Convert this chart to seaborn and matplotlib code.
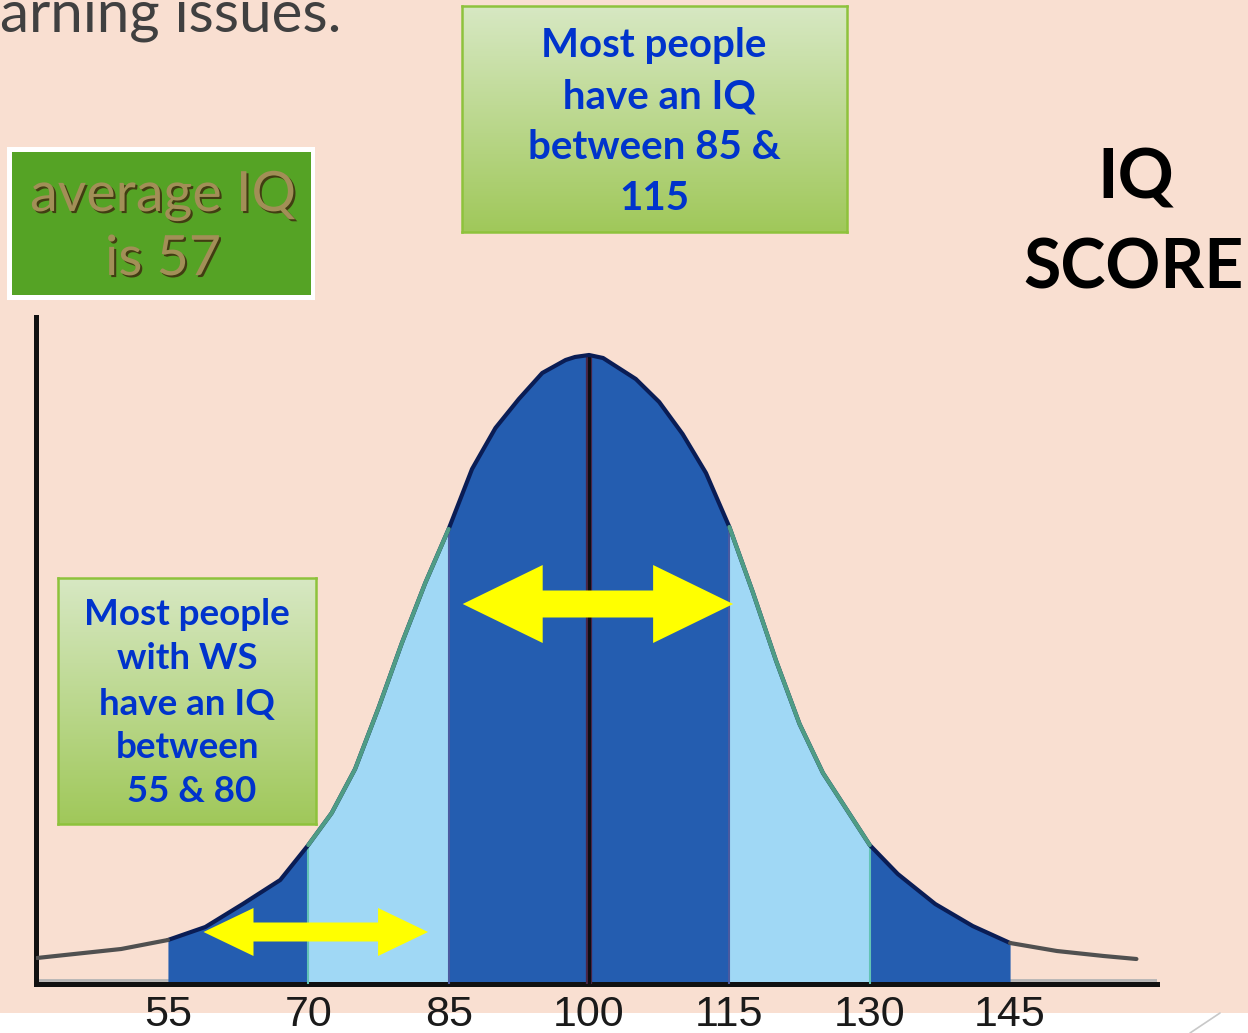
import numpy as np
import matplotlib
matplotlib.use("Agg")
import matplotlib.pyplot as plt
import matplotlib.patheffects as pe
from matplotlib.patches import Rectangle, Polygon
from matplotlib.colors import LinearSegmentedColormap
from matplotlib.transforms import IdentityTransform
import seaborn as sns

# curve: IQ value -> height of the bell (arbitrary units, peak ~629)
iq_points = [41, 45, 50, 55, 59, 63, 67, 70, 72.5, 75, 77.5, 80, 82.5, 85, 87.5, 90, 92.5, 95, 97.5, 98.5,
             100, 101.5, 102.5, 105, 107.5, 110, 112.5, 115, 117.5, 120, 122.5, 125, 127.5, 130, 133, 137,
             141, 145, 150, 155, 158.5]
curve_height = [26, 30, 35, 44, 57, 80, 104, 139, 171, 215, 276, 341, 401, 455, 515, 556, 585, 611, 624, 627,
                629, 626, 620, 605, 582, 550, 511, 457, 392, 323, 260, 211, 175, 139, 110, 80,
                58, 41, 33, 28, 25]

# shaded bands under the curve
band_lo = [55, 70, 85, 115, 130]
band_hi = [70, 85, 115, 130, 145]
band_shade = ["dark", "light", "dark", "light", "dark"]

tick_values = [55, 70, 85, 100, 115, 130, 145]

W, H = 1248, 1033
PEACH = "#F9DFD1"
DARK_BLUE = "#245DB0"
LIGHT_BLUE = "#A0D8F5"
TEXT_BLUE = "#0033CC"


def fx(x):
    return x / W


def fy(y):
    return 1 - y / H


def double_arrow(ax, x0, x1, y, shaft, head_w, head_len, color):
    p0 = ax.transData.transform((x0, y))
    p1 = ax.transData.transform((x1, y))
    a, b, cy = p0[0], p1[0], p0[1]
    pts = [(a, cy), (a + head_len, cy + head_w), (a + head_len, cy + shaft),
           (b - head_len, cy + shaft), (b - head_len, cy + head_w), (b, cy),
           (b - head_len, cy - head_w), (b - head_len, cy - shaft),
           (a + head_len, cy - shaft), (a + head_len, cy - head_w)]
    ax.add_patch(Polygon(pts, closed=True, transform=IdentityTransform(),
                         facecolor=color, edgecolor="none", zorder=6))


def gradient_box(fig, x0, y0, x1, y1):
    bax = fig.add_axes([fx(x0), fy(y1), (x1 - x0) / W, (y1 - y0) / H], zorder=4)
    cmap = LinearSegmentedColormap.from_list("box", ["#D7E8C3", "#A0C85A"])
    bax.imshow(np.linspace(0, 1, 256)[:, None], aspect="auto", cmap=cmap, extent=[0, 1, 0, 1])
    bax.set_xticks([])
    bax.set_yticks([])
    for s in bax.spines.values():
        s.set_color("#8EC23C")
        s.set_linewidth(1.8)
    return bax


def main():
    sns.set_style("white")
    plt.rcParams["font.family"] = ["Lato", "DejaVu Sans"]

    fig = plt.figure(figsize=(W / 100, H / 100), dpi=100, facecolor=PEACH)
    ax = fig.add_axes([fx(36), fy(984), (1157 - 36) / W, (984 - 317) / H])
    ax.set_facecolor(PEACH)
    ax.set_xlim(40.9, 160.7)
    ax.set_ylim(0, 667)

    x = np.array(iq_points)
    y = np.array(curve_height)

    # bands
    for lo, hi, shade in zip(band_lo, band_hi, band_shade):
        m = (x >= lo) & (x <= hi)
        ax.fill_between(x[m], 0, y[m], color=DARK_BLUE if shade == "dark" else LIGHT_BLUE,
                        lw=0, zorder=2)

    # band edges and centre line
    for v, c in [(70, "#62C3B5"), (130, "#62C3B5"), (85, "#4A5AA0"), (115, "#4A5AA0")]:
        ax.vlines(v, 0, curve_height[iq_points.index(v)], colors=c, lw=1.5, zorder=3)
    peak = curve_height[iq_points.index(100)]
    ax.vlines(100, 0, peak, colors="#4A2545", lw=4.5, zorder=4)
    ax.vlines(100, 0, peak, colors="#0D0D15", lw=2.2, zorder=4)

    # outline of the curve
    ax.axhline(4, color="#B4B4B4", lw=2, zorder=1)
    mid = (x >= 55) & (x <= 145)
    sns.lineplot(x=x[mid], y=y[mid], ax=ax, color="#0A1D55", lw=3, zorder=5)
    for lo, hi in [(70, 85), (115, 130)]:
        m = (x >= lo) & (x <= hi)
        sns.lineplot(x=x[m], y=y[m], ax=ax, color="#4F9C85", lw=3, zorder=5)
    for m in [x <= 55, x >= 145]:
        sns.lineplot(x=x[m], y=y[m], ax=ax, color="#505050", lw=3, zorder=5)

    # axes styling
    sns.despine(ax=ax)
    for side in ["left", "bottom"]:
        ax.spines[side].set_color("#111111")
        ax.spines[side].set_linewidth(3.6)
    ax.set_yticks([])
    ax.set_xticks(tick_values)
    ax.set_xticklabels([str(v) for v in tick_values])
    ax.tick_params(axis="x", length=0, pad=8, labelsize=31, labelcolor="#1A1A1A")
    for lab in ax.get_xticklabels():
        lab.set_fontfamily(["Liberation Sans", "DejaVu Sans"])
    ax.set_xlabel("")
    ax.set_ylabel("")

    # arrows
    double_arrow(ax, 86.5, 115.4, 380, 13.5, 39, 80, "#FFFF00")
    double_arrow(ax, 58.8, 82.8, 52, 9.5, 24, 50, "#FFFF00")

    # white strip under the slide and corner mark
    fig.add_artist(Rectangle((0, 0), 1, 20 / H, transform=fig.transFigure,
                             facecolor="white", edgecolor="none", zorder=-1))
    fig.add_artist(plt.Line2D([fx(1220), fx(1190)], [fy(1013), fy(1033)],
                              transform=fig.transFigure, color="#C8C8C8", lw=1.2))

    # slide text (cut at the top edge, as on the slide)
    fig.text(fx(0), fy(32), "arning issues.", ha="left", va="baseline",
             fontsize=42, color="#404040")

    # average IQ box
    fig.add_artist(Rectangle((fx(7), fy(300)), 308 / W, 153 / H, transform=fig.transFigure,
                             facecolor="white", edgecolor="none", zorder=1))
    fig.add_artist(Rectangle((fx(12), fy(295)), 299 / W, 143 / H, transform=fig.transFigure,
                             facecolor="#55A325", edgecolor="none", zorder=1.5))
    shadow = [pe.withSimplePatchShadow(offset=(1.5, -1.5), shadow_rgbFace="#3F3210", alpha=0.9)]
    for s, yy in [("average IQ", 211), ("is 57", 275)]:
        fig.text(fx(163), fy(yy), s, ha="center", va="baseline", fontsize=40,
                 color="#A28F57", path_effects=shadow, zorder=5)

    # text boxes
    gradient_box(fig, 462, 6, 847, 232)
    for s, yy in [("Most people", 57), (" have an IQ", 108), ("between 85 &", 159), ("115", 210)]:
        fig.text(fx(654), fy(yy), s, ha="center", va="baseline", fontsize=29,
                 fontweight="bold", color=TEXT_BLUE, zorder=5)

    gradient_box(fig, 58, 578, 316, 824)
    for s, yy in [("Most people", 625), ("with WS", 669), ("have an IQ", 715),
                  ("between", 758), (" 55 & 80", 802)]:
        fig.text(fx(187), fy(yy), s, ha="center", va="baseline", fontsize=26.5,
                 fontweight="bold", color=TEXT_BLUE, zorder=5)

    # IQ SCORE label
    fig.text(fx(1136), fy(199), "IQ", ha="center", va="baseline", fontsize=50,
             fontweight="bold", color="black", zorder=5)
    fig.text(fx(1134), fy(288), "SCORE", ha="center", va="baseline", fontsize=49,
             fontweight="bold", color="black", zorder=5)

    fig.savefig("out.png", dpi=100, facecolor=fig.get_facecolor())


if __name__ == "__main__":
    main()
